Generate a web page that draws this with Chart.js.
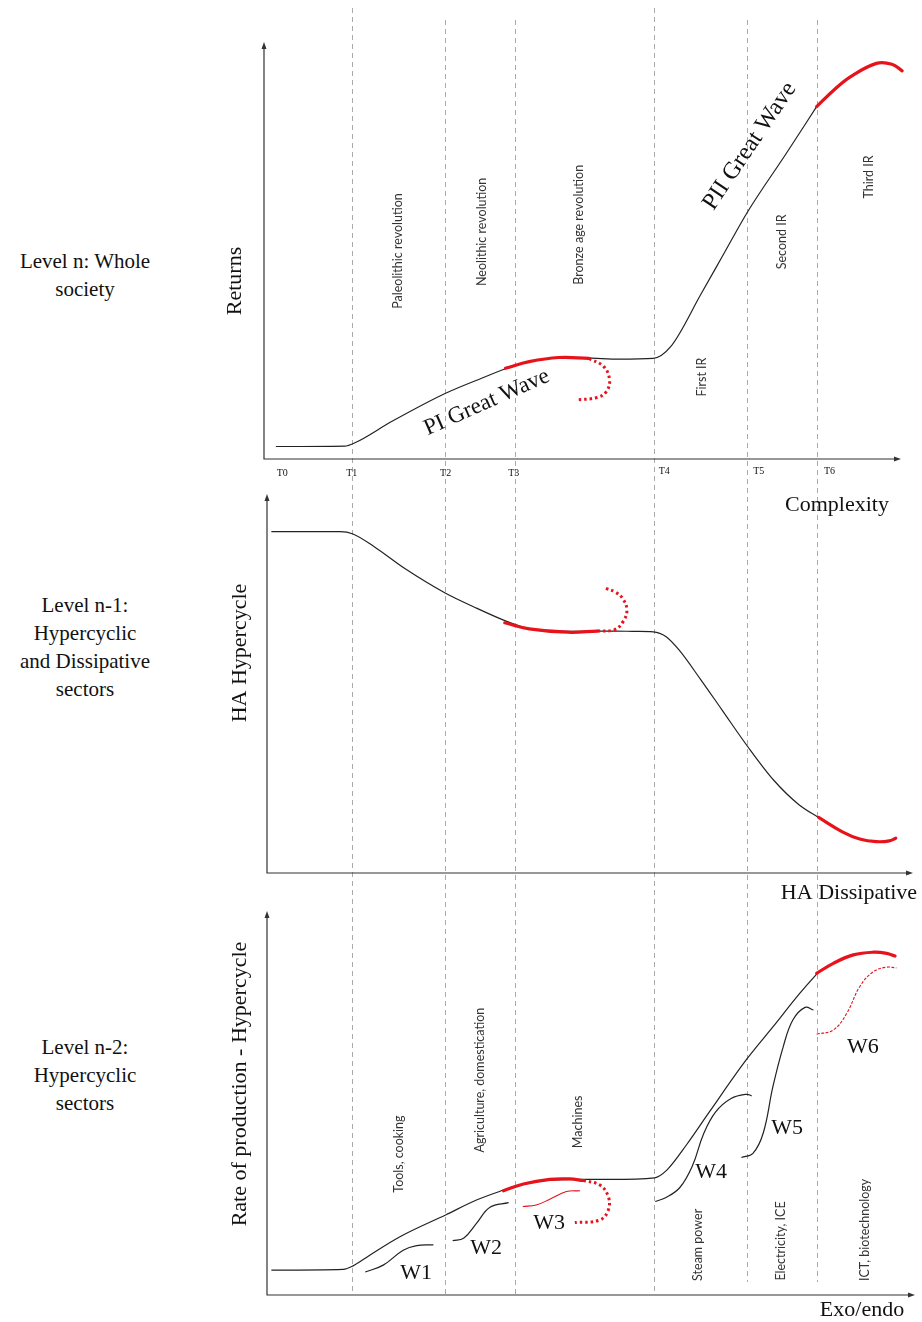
<!DOCTYPE html>
<html>
<head>
<meta charset="utf-8">
<title>Great waves of complexity</title>
<script src="https://cdn.jsdelivr.net/npm/chart.js@4.4.1/dist/chart.umd.min.js"></script>
<style>
html, body { margin: 0; padding: 0; background: #fff; }
#page { position: relative; width: 922px; height: 1322px; overflow: hidden; }
#page canvas { position: absolute; left: 0; top: 0; }
.level { position: absolute; left: 0; width: 170px; text-align: center;
         font: 21px/28px "Liberation Serif", "Times New Roman", serif; color: #111; }
</style>
</head>
<body>
<div id="page">
  <div class="level" style="top:247px">Level n: Whole<br>society</div>
  <div class="level" style="top:591px">Level n-1:<br>Hypercyclic<br>and Dissipative<br>sectors</div>
  <div class="level" style="top:1033px">Level n-2:<br>Hypercyclic<br>sectors</div>
  <canvas id="whole" width="922" height="1322"></canvas>
  <canvas id="hyperDiss" width="922" height="1322"></canvas>
  <canvas id="hyper" width="922" height="1322"></canvas>
</div>
<script>
// x = complexity (0-100), y = level of each curve (0-100)

// era boundaries T1..T6 and the T tick labels
const eraBounds = [13.8, 28.3, 39.2, 60.8, 75.3, 86.2];
const tickLabels = ['T0', 'T1', 'T2', 'T3', 'T4', 'T5', 'T6'];
const tickLabelX = [3.0, 13.8, 28.4, 39.0, 62.4, 77.1, 88.1];

// Level n : returns
const returnsX = [2.0, 12.7, 14.3, 20.0, 28.4, 34.0, 39.4, 44.7, 50.0, 55.4, 60.7, 63.4, 68.1, 71.4, 75.4, 81.4, 86.1];
const returnsY = [3.0, 3.1, 3.9, 9.0, 15.8, 19.4, 22.6, 24.2, 24.3, 24.0, 24.2, 27.0, 39.6, 48.6, 59.5, 73.5, 84.7];
const returnsPeakX = [37.7, 41.4, 46.0, 50.7];
const returnsPeakY = [21.8, 23.4, 24.4, 24.2];
const returnsFallX = [50.7, 53.0, 53.9, 53.4, 52.0, 48.7];
const returnsFallY = [24.2, 22.2, 19.0, 16.2, 14.8, 14.2];
const returnsTopX = [86.1, 88.8, 91.4, 95.4, 97.8, 99.4];
const returnsTopY = [84.7, 88.7, 91.9, 95.1, 94.9, 93.3];
const eraNames1 = ['Paleolithic revolution', 'Neolithic revolution', 'Bronze age revolution', 'First IR', 'Second IR', 'Third IR'];
const eraNames1X = [21.0, 34.0, 49.2, 68.3, 80.7, 94.2];
const eraNames1Y = [50.0, 54.6, 56.3, 19.7, 52.2, 67.8];

// Level n-1 : HA hypercycle vs HA dissipative
const haX = [1.3, 12.0, 14.0, 17.3, 22.0, 28.4, 33.3, 38.0, 41.4, 47.4, 52.0, 54.7, 58.1, 60.7, 62.7, 64.7, 68.1, 71.4, 75.4, 79.4, 83.4, 86.4];
const haY = [90.3, 90.3, 89.7, 86.3, 80.6, 74.0, 70.0, 66.5, 64.6, 63.9, 64.0, 64.0, 63.9, 63.8, 62.5, 59.0, 51.1, 43.1, 33.4, 24.6, 18.0, 14.7];
const haLowX = [37.6, 41.4, 47.4, 52.0];
const haLowY = [66.2, 64.6, 63.7, 64.0];
const haRiseX = [52.0, 54.7, 56.0, 56.6, 55.9, 54.7, 53.3];
const haRiseY = [64.0, 64.4, 66.5, 69.6, 72.7, 74.4, 75.3];
const haEndX = [86.4, 90.1, 92.8, 95.4, 97.4, 98.4];
const haEndY = [14.7, 10.9, 9.0, 8.3, 8.5, 9.2];

// Level n-2 : rate of production
const rateX = [1.3, 12.5, 14.0, 16.6, 21.3, 28.4, 33.2, 37.4, 39.4, 44.6, 49.8, 54.0, 60.9, 62.8, 65.9, 69.5, 75.2, 79.3, 83.5, 86.1];
const rateY = [6.5, 6.7, 7.6, 10.4, 15.2, 20.9, 24.8, 27.4, 28.5, 30.0, 30.2, 30.2, 30.6, 32.6, 39.3, 48.0, 61.5, 70.0, 78.8, 83.8];
const ratePeakX = [37.4, 40.5, 44.6, 47.7, 49.8];
const ratePeakY = [27.2, 29.0, 30.2, 30.3, 29.9];
const rateFallX = [49.8, 52.4, 53.7, 53.7, 52.4, 48.5];
const rateFallY = [29.9, 28.7, 25.7, 22.2, 19.6, 18.9];
const rateTopX = [86.1, 88.7, 91.8, 94.9, 97.0, 98.3];
const rateTopY = [84.0, 86.6, 88.8, 89.5, 89.2, 88.5];
const w1X = [15.9, 18.7, 21.8, 23.9, 26.5];
const w1Y = [6.0, 7.8, 11.7, 12.9, 13.1];
const w2X = [29.5, 31.2, 33.2, 35.3, 38.2];
const w2Y = [14.2, 14.8, 18.7, 22.9, 24.1];
const w3X = [40.4, 42.5, 44.6, 47.2, 49.3];
const w3Y = [23.1, 23.5, 25.0, 27.0, 27.2];
const w4X = [61.0, 62.6, 64.8, 66.8, 68.5, 70.4, 72.8, 75.2, 76.0];
const w4Y = [24.4, 25.4, 28.0, 33.8, 42.0, 47.8, 51.3, 52.4, 52.0];
const w5X = [74.4, 76.2, 77.8, 79.3, 80.9, 82.4, 84.3, 85.6];
const w5Y = [35.9, 37.0, 42.3, 54.4, 64.8, 71.8, 75.1, 74.4];
const w6X = [86.1, 88.7, 90.8, 92.8, 94.9, 97.0, 98.5];
const w6Y = [68.1, 69.2, 73.6, 80.5, 84.4, 85.6, 85.4];
const waveNames = ['W1', 'W2', 'W3', 'W4', 'W5', 'W6'];
const waveNamesX = [23.8, 34.7, 44.5, 69.7, 81.5, 93.3];
const waveNamesY = [5.7, 12.3, 18.8, 32.1, 43.6, 64.8];
const eraNames3 = ['Tools, cooking', 'Agriculture, domestication', 'Machines', 'Steam power', 'Electricity, ICE', 'ICT, biotechnology'];
const eraNames3X = [21.2, 33.8, 49.0, 67.7, 80.6, 93.6];
const eraNames3Y = [36.8, 56.1, 45.2, 13.1, 14.1, 17.0];

const SERIF = '"Liberation Serif", "Times New Roman", serif';
const SANS = 'Lato, "Open Sans", sans-serif';
const BLACK = '#222';
const RED = '#e8121a';

function curve(xs, ys, style) {
  return Object.assign({
    data: xs.map((x, i) => ({ x: x, y: ys[i] })),
    showLine: true,
    borderColor: BLACK,
    borderWidth: 1.2,
    pointRadius: 0,
    fill: false,
    tension: 0.4
  }, style);
}
const mainLine = { cubicInterpolationMode: 'monotone' };
const redThick = { borderColor: RED, borderWidth: 3.2, borderCapStyle: 'round' };
const redDots = { borderColor: RED, borderWidth: 3, borderDash: [2.5, 3] };
const redThin = { borderColor: RED, borderWidth: 1.1 };

function labels(names, xs, ys, font, rot) {
  return names.map((t, i) => ({ text: t, x: xs[i], y: ys[i], font: font, rot: rot }));
}

// axes, dashed era lines and text drawn over the chart
function makeDecor(cfg) {
  return {
    id: 'decor',
    beforeDatasetsDraw(chart) {
      if (!cfg.eraLines) return;
      const { ctx, scales: { x } } = chart;
      ctx.save();
      ctx.strokeStyle = '#aaa';
      ctx.lineWidth = 1;
      ctx.setLineDash([5, 4]);
      eraBounds.forEach((b, i) => {
        const px = Math.round(x.getPixelForValue(b)) + 0.5;
        ctx.beginPath();
        ctx.moveTo(px, cfg.eraLines.top[i]);
        ctx.lineTo(px, cfg.eraLines.bottom[i]);
        ctx.stroke();
      });
      ctx.restore();
    },
    afterDatasetsDraw(chart) {
      const { ctx, chartArea: a, scales: { x, y } } = chart;
      const ax = a.left + cfg.axisShift;
      const xEnd = a.right + cfg.xEnd;
      ctx.save();
      ctx.strokeStyle = '#333';
      ctx.fillStyle = '#333';
      ctx.lineWidth = 1.2;
      ctx.beginPath();
      ctx.moveTo(ax, a.top + 4);
      ctx.lineTo(ax, a.bottom);
      ctx.lineTo(xEnd - 4, a.bottom);
      ctx.stroke();
      ctx.beginPath();
      ctx.moveTo(ax, a.top - 1);
      ctx.lineTo(ax - 2.5, a.top + 6);
      ctx.lineTo(ax + 2.5, a.top + 6);
      ctx.closePath();
      ctx.fill();
      ctx.beginPath();
      ctx.moveTo(xEnd + 1, a.bottom);
      ctx.lineTo(xEnd - 6, a.bottom - 2.5);
      ctx.lineTo(xEnd - 6, a.bottom + 2.5);
      ctx.closePath();
      ctx.fill();

      ctx.textAlign = 'center';
      ctx.textBaseline = 'middle';
      ctx.fillStyle = '#111';
      (cfg.texts || []).forEach(t => {
        ctx.save();
        ctx.translate(x.getPixelForValue(t.x), y.getPixelForValue(t.y));
        ctx.rotate((t.rot || 0) * Math.PI / 180);
        ctx.font = t.font;
        ctx.fillStyle = t.color || '#111';
        ctx.fillText(t.text, 0, 0);
        ctx.restore();
      });
      if (cfg.ticks) {
        ctx.font = '10px ' + SERIF;
        cfg.ticks.labels.forEach((t, i) => {
          ctx.fillText(t, x.getPixelForValue(cfg.ticks.x[i]), a.bottom + cfg.ticks.dy[i]);
        });
      }
      // axis titles
      ctx.font = '22px ' + SERIF;
      ctx.save();
      ctx.translate(a.left - cfg.yTitle.dx, a.top + cfg.yTitle.dy);
      ctx.rotate(-Math.PI / 2);
      ctx.fillText(cfg.yTitle.text, 0, 0);
      ctx.restore();
      ctx.fillText(cfg.xTitle.text, a.right + cfg.xTitle.dx, a.bottom + cfg.xTitle.dy);
      ctx.restore();
    }
  };
}

function panel(id, pad, datasets, cfg) {
  return new Chart(document.getElementById(id), {
    type: 'scatter',
    data: { datasets: datasets },
    options: {
      responsive: false,
      animation: false,
      events: [],
      layout: { padding: pad },
      scales: {
        x: { type: 'linear', min: 0, max: 100, display: false },
        y: { type: 'linear', min: 0, max: 100, display: false }
      },
      plugins: { legend: { display: false }, tooltip: { enabled: false } }
    },
    plugins: [makeDecor(cfg)]
  });
}

const eraFont = '12.5px ' + SANS;

// Level n: whole society
panel('whole', { left: 263, right: 16, top: 43, bottom: 863 }, [
  curve(returnsPeakX, returnsPeakY, redThick),
  curve(returnsFallX, returnsFallY, redDots),
  curve(returnsTopX, returnsTopY, redThick),
  curve(returnsX, returnsY, mainLine)
], {
  axisShift: 1, xEnd: -6,
  eraLines: { top: [8, 20, 20, 8, 20, 20], bottom: [1295, 1295, 1295, 1295, 1282, 1282] },
  ticks: { labels: tickLabels, x: tickLabelX, dy: [14, 14, 14, 14, 12, 12, 12] },
  yTitle: { text: 'Returns', dx: 28, dy: 238 },
  xTitle: { text: 'Complexity', dx: -69, dy: 46 },
  texts: labels(eraNames1, eraNames1X, eraNames1Y, eraFont, -90).concat([
    { text: 'PI Great Wave', x: 34.8, y: 13.6, font: '23px ' + SERIF, rot: -24 },
    { text: 'PII Great Wave', x: 75.7, y: 75.2, font: '24px ' + SERIF, rot: -56 }
  ]).map(t => Object.assign({ color: t.font === eraFont ? '#333' : '#111' }, t))
});

// Level n-1: hypercyclic and dissipative sectors
panel('hyperDiss', { left: 263, right: 16, top: 495, bottom: 449 }, [
  curve(haLowX, haLowY, redThick),
  curve(haRiseX, haRiseY, redDots),
  curve(haEndX, haEndY, redThick),
  curve(haX, haY, mainLine)
], {
  axisShift: 4, xEnd: 6,
  yTitle: { text: 'HA Hypercycle', dx: 23, dy: 158 },
  xTitle: { text: 'HA Dissipative', dx: -57, dy: 20 }
});

// Level n-2: hypercyclic sectors
panel('hyper', { left: 263, right: 16, top: 912, bottom: 27 }, [
  curve(ratePeakX, ratePeakY, redThick),
  curve(rateFallX, rateFallY, redDots),
  curve(rateTopX, rateTopY, redThick),
  curve(w3X, w3Y, redThin),
  curve(w6X, w6Y, Object.assign({ borderDash: [3, 1.5] }, redThin)),
  curve(w1X, w1Y, {}),
  curve(w2X, w2Y, {}),
  curve(w4X, w4Y, {}),
  curve(w5X, w5Y, {}),
  curve(rateX, rateY, mainLine)
], {
  axisShift: 4, xEnd: 8,
  yTitle: { text: 'Rate of production - Hypercycle', dx: 23, dy: 172 },
  xTitle: { text: 'Exo/endo', dx: -44, dy: 15 },
  texts: labels(eraNames3, eraNames3X, eraNames3Y, eraFont, -90).map(t => Object.assign(t, { color: '#333' }))
    .concat(labels(waveNames, waveNamesX, waveNamesY, '22px ' + SERIF, 0))
});
</script>
</body>
</html>
